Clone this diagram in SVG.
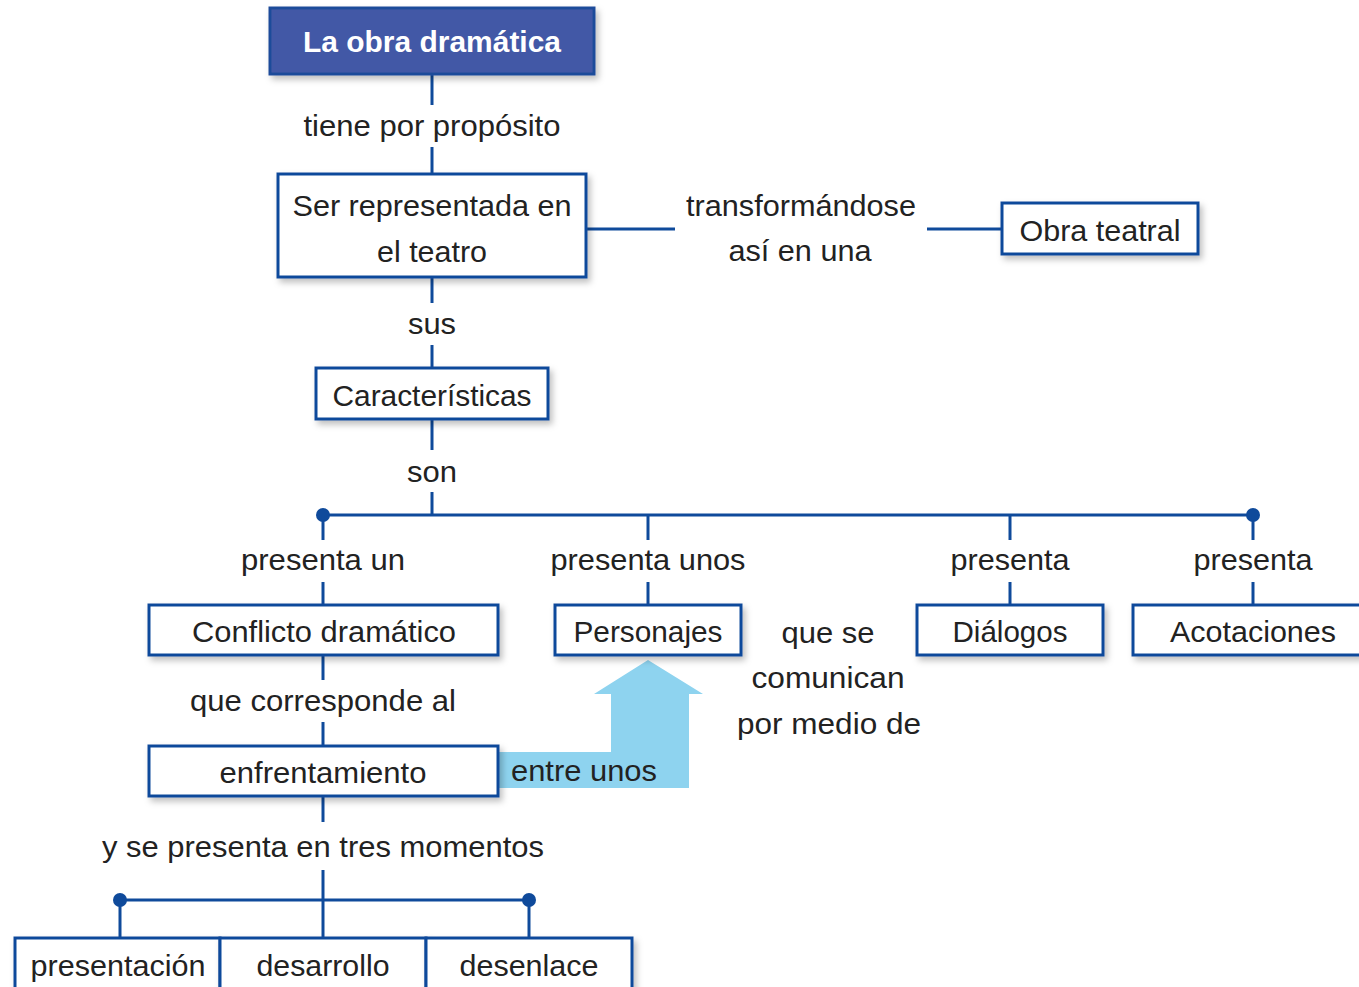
<svg xmlns="http://www.w3.org/2000/svg" width="1359" height="987" viewBox="0 0 1359 987">
<defs>
<filter id="sh" x="-10%" y="-20%" width="125%" height="160%">
<feDropShadow dx="3" dy="4" stdDeviation="3" flood-color="#000" flood-opacity="0.25"/>
</filter>
<style>
.box{fill:#fff;stroke:#0f4a9b;stroke-width:3;filter:url(#sh)}
.ln{stroke:#0f4a9b;stroke-width:3;fill:none}
.dot{fill:#0f4a9b}
text{font-family:"Liberation Sans",Arial,sans-serif;font-size:30px;fill:#222;text-anchor:middle}
.t{fill:#fff;font-weight:bold}
</style>
</defs>
<rect width="1359" height="987" fill="#fff"/>
<g id="connectors">
<line class="ln" x1="432" y1="74" x2="432" y2="105"/>
<line class="ln" x1="432" y1="147" x2="432" y2="174"/>
<line class="ln" x1="586" y1="229" x2="675" y2="229"/>
<line class="ln" x1="927" y1="229" x2="1002" y2="229"/>
<line class="ln" x1="432" y1="277" x2="432" y2="303"/>
<line class="ln" x1="432" y1="345" x2="432" y2="368"/>
<line class="ln" x1="432" y1="419" x2="432" y2="450"/>
<line class="ln" x1="432" y1="492" x2="432" y2="515"/>
<line class="ln" x1="323" y1="515" x2="1253" y2="515"/>
<circle class="dot" cx="323" cy="515" r="7"/>
<circle class="dot" cx="1253" cy="515" r="7"/>
<line class="ln" x1="323" y1="515" x2="323" y2="540"/>
<line class="ln" x1="323" y1="582" x2="323" y2="605"/>
<line class="ln" x1="648" y1="515" x2="648" y2="540"/>
<line class="ln" x1="648" y1="582" x2="648" y2="605"/>
<line class="ln" x1="1010" y1="515" x2="1010" y2="540"/>
<line class="ln" x1="1010" y1="582" x2="1010" y2="605"/>
<line class="ln" x1="1253" y1="515" x2="1253" y2="540"/>
<line class="ln" x1="1253" y1="582" x2="1253" y2="605"/>
<line class="ln" x1="323" y1="655" x2="323" y2="680"/>
<line class="ln" x1="323" y1="722" x2="323" y2="746"/>
<line class="ln" x1="323" y1="796" x2="323" y2="822"/>
<line class="ln" x1="323" y1="870" x2="323" y2="938"/>
<line class="ln" x1="120" y1="900" x2="529" y2="900"/>
<circle class="dot" cx="120" cy="900" r="7"/>
<circle class="dot" cx="529" cy="900" r="7"/>
<line class="ln" x1="120" y1="900" x2="120" y2="938"/>
<line class="ln" x1="529" y1="900" x2="529" y2="938"/>
<path d="M498 752 H611 V694 H594 L648 660 L703 694 H689 V788 H498 Z" fill="#8ed3ef"/>
</g>
<g id="labels">
<text x="432" y="136" textLength="257" lengthAdjust="spacingAndGlyphs">tiene por propósito</text>
<text x="801" y="216" textLength="230" lengthAdjust="spacingAndGlyphs">transformándose</text>
<text x="800" y="261" textLength="143" lengthAdjust="spacingAndGlyphs">así en una</text>
<text x="432" y="334" textLength="48" lengthAdjust="spacingAndGlyphs">sus</text>
<text x="432" y="482" textLength="50" lengthAdjust="spacingAndGlyphs">son</text>
<text x="323" y="570" textLength="164" lengthAdjust="spacingAndGlyphs">presenta un</text>
<text x="648" y="570" textLength="195" lengthAdjust="spacingAndGlyphs">presenta unos</text>
<text x="1010" y="570" textLength="119" lengthAdjust="spacingAndGlyphs">presenta</text>
<text x="1253" y="570" textLength="119" lengthAdjust="spacingAndGlyphs">presenta</text>
<text x="828" y="643" textLength="93" lengthAdjust="spacingAndGlyphs">que se</text>
<text x="828" y="688" textLength="153" lengthAdjust="spacingAndGlyphs">comunican</text>
<text x="829" y="734" textLength="184" lengthAdjust="spacingAndGlyphs">por medio de</text>
<text x="323" y="711" textLength="266" lengthAdjust="spacingAndGlyphs">que corresponde al</text>
<text x="584" y="781" textLength="146" lengthAdjust="spacingAndGlyphs">entre unos</text>
<text x="323" y="857" textLength="442" lengthAdjust="spacingAndGlyphs">y se presenta en tres momentos</text>
</g>
<g id="n-obra">
<rect x="270" y="8" width="324" height="66" fill="#4358a6" stroke="#1e4c9a" stroke-width="3" filter="url(#sh)"/>
<text class="t" x="432" y="52" textLength="258" lengthAdjust="spacingAndGlyphs">La obra dramática</text>
</g>
<g id="n-ser">
<rect class="box" x="278" y="174" width="308" height="103"/>
<text x="432" y="216" textLength="279" lengthAdjust="spacingAndGlyphs">Ser representada en</text>
<text x="432" y="262" textLength="110" lengthAdjust="spacingAndGlyphs">el teatro</text>
</g>
<g id="n-teatral">
<rect class="box" x="1002" y="203" width="196" height="51"/>
<text x="1100" y="241" textLength="161" lengthAdjust="spacingAndGlyphs">Obra teatral</text>
</g>
<g id="n-caract">
<rect class="box" x="316" y="368" width="232" height="51"/>
<text x="432" y="406" textLength="199" lengthAdjust="spacingAndGlyphs">Características</text>
</g>
<g id="n-conflicto">
<rect class="box" x="149" y="605" width="349" height="50"/>
<text x="324" y="642" textLength="264" lengthAdjust="spacingAndGlyphs">Conflicto dramático</text>
</g>
<g id="n-personajes">
<rect class="box" x="555" y="605" width="186" height="50"/>
<text x="648" y="642" textLength="149" lengthAdjust="spacingAndGlyphs">Personajes</text>
</g>
<g id="n-dialogos">
<rect class="box" x="917" y="605" width="186" height="50"/>
<text x="1010" y="642" textLength="115" lengthAdjust="spacingAndGlyphs">Diálogos</text>
</g>
<g id="n-acotaciones">
<rect class="box" x="1133" y="605" width="235" height="50"/>
<text x="1253" y="642" textLength="166" lengthAdjust="spacingAndGlyphs">Acotaciones</text>
</g>
<g id="n-enfrentamiento">
<rect class="box" x="149" y="746" width="349" height="50"/>
<text x="323" y="783" textLength="207" lengthAdjust="spacingAndGlyphs">enfrentamiento</text>
</g>
<g id="n-presentacion">
<rect class="box" x="15" y="938" width="205" height="60"/>
<text x="118" y="976" textLength="175" lengthAdjust="spacingAndGlyphs">presentación</text>
</g>
<g id="n-desarrollo">
<rect class="box" x="220" y="938" width="206" height="60"/>
<text x="323" y="976" textLength="133" lengthAdjust="spacingAndGlyphs">desarrollo</text>
</g>
<g id="n-desenlace">
<rect class="box" x="426" y="938" width="206" height="60"/>
<text x="529" y="976" textLength="139" lengthAdjust="spacingAndGlyphs">desenlace</text>
</g>
</svg>
